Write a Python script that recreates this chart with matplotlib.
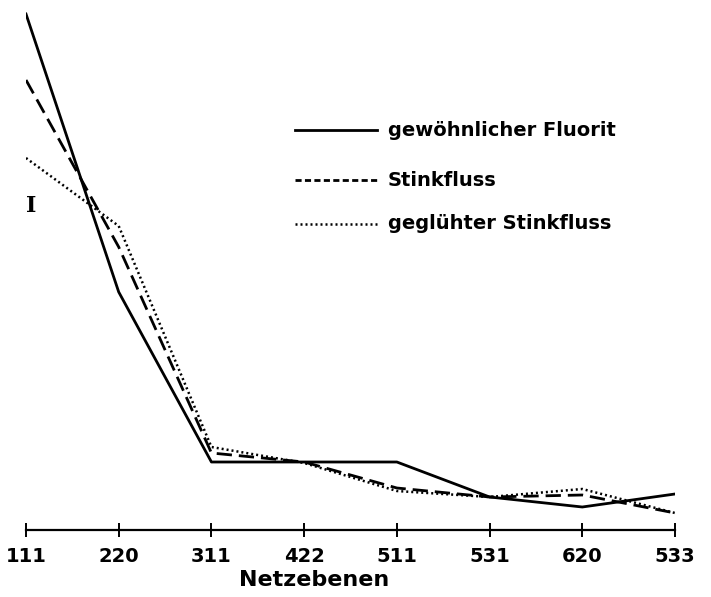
import matplotlib.pyplot as plt
import numpy as np

# Netzebenen (lattice planes) and relative intensities
planes = ["111", "220", "311", "422", "511", "531", "620", "533"]
fluorit = [516, 238, 68, 68, 68, 33, 23, 36]
stinkfluss = [450, 283, 77, 68, 42, 33, 35, 17]
gegluehter = [372, 304, 83, 67, 39, 33, 41, 17]

plt.rcParams['font.family'] = ['DejaVu Sans']

fig = plt.figure(figsize=(7.11, 5.97), dpi=100)
ax = fig.add_axes([26 / 711, (597 - 530) / 597, (675 - 26) / 711, 530 / 597])

x = np.arange(len(planes))
ax.plot(x, fluorit, color='black', linewidth=2.0, linestyle='-')
ax.plot(x, stinkfluss, color='black', linewidth=2.0, linestyle=(0, (5.5, 2.5)))
ax.plot(x, gegluehter, color='black', linewidth=1.8, linestyle=(0, (0.8, 1.2)))

ax.set_xlim(0, len(planes) - 1)
ax.set_ylim(0, 530)

for side in ['top', 'right', 'left']:
    ax.spines[side].set_visible(False)
ax.spines['bottom'].set_linewidth(1.6)
ax.set_yticks([])
ax.set_xticks(x)
ax.set_xticklabels(planes, fontsize=14, fontweight='bold')
ax.tick_params(axis='x', direction='inout', length=10, width=1.4, pad=7)
ax.patch.set_alpha(0)

fig.text(314 / 711, 1 - 580 / 597, "Netzebenen", fontsize=16,
         fontweight='bold', ha='center', va='center')

# "I" label on the left
fig.text(31 / 711, 1 - 206 / 597, "I", fontsize=16, fontweight='bold',
         family='DejaVu Serif', ha='center', va='center')

# hand-drawn style legend
rows = [("gewöhnlicher Fluorit", '-', 2.0, 130),
        ("Stinkfluss", (0, (2.2, 1.2)), 2.0, 180),
        ("geglühter Stinkfluss", (0, (0.8, 1.2)), 1.8, 224)]
for label, ls, lw, ypx in rows:
    yf = 1 - ypx / 597
    fig.add_artist(plt.Line2D([295 / 711, 377 / 711], [yf, yf], color='black',
                              linestyle=ls, linewidth=lw))
    fig.text(388 / 711, yf, label, fontsize=14, fontweight='bold',
             ha='left', va='center')

fig.savefig("out.png", dpi=100)
